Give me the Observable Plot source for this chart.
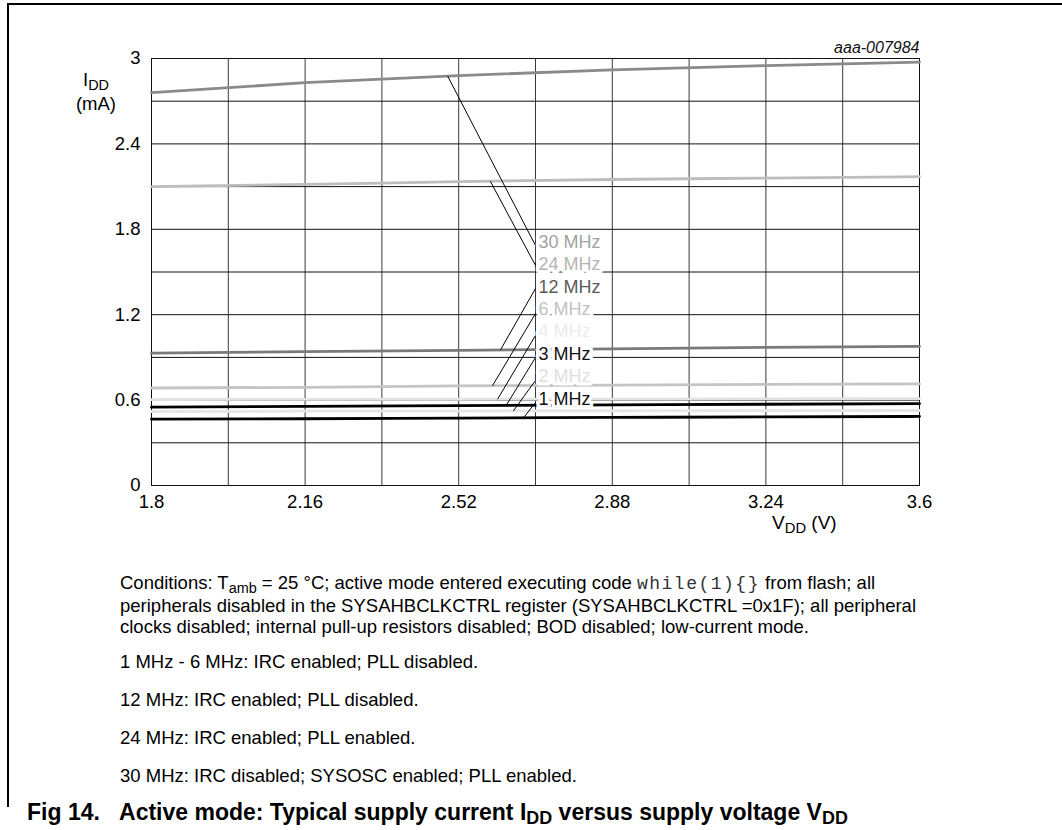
<!DOCTYPE html>
<html>
<head>
<meta charset="utf-8">
<script src="https://cdn.jsdelivr.net/npm/d3@7"></script>
<script src="https://cdn.jsdelivr.net/npm/@observablehq/plot@0.6"></script>
<style>
  body { margin: 0; background: #fff; font-family: "Liberation Sans", Arial, sans-serif; color: #000; }
  #page { position: relative; width: 1062px; height: 830px; overflow: hidden; background: #fff; }
  #frame { position: absolute; left: 7px; top: 3px; right: -2px; height: 802px; border-top: 2px solid #000; border-left: 2px solid #000; }
  #chart { position: absolute; left: 0; top: 0; }
  .abs { position: absolute; white-space: nowrap; }
  sub { font-size: 0.78em; vertical-align: -0.25em; line-height: 0; }
  .ylab { font-size: 18.5px; text-align: center; width: 70px; left: 61px; }
  .xlab { font-size: 19px; line-height: 19px; left: 772px; top: 513px; }
  .cap { font-size: 18.5px; line-height: 21px; left: 120px; }
  code { font-family: "Liberation Mono", "DejaVu Sans Mono", monospace; font-size: 18px; letter-spacing: 1.5px; color: #333; }
  .title { font-family: "Liberation Sans Narrow", "Arial Narrow", "Liberation Sans", Arial, sans-serif; font-weight: bold; font-size: 23px; line-height: 26px; left: 27px; top: 799px; }
</style>
</head>
<body>
<div id="page">
  <div id="frame"></div>
  <div id="chart"></div>
  <div class="abs ylab" style="top:70px; line-height:20px">I<sub>DD</sub></div>
  <div class="abs ylab" style="top:94px; line-height:20px">(mA)</div>
  <div class="abs xlab">V<sub>DD</sub> (V)</div>
  <div class="abs cap" style="top:572px">Conditions: T<sub>amb</sub> = 25 °C; active mode entered executing code <code>while(1){}</code> from flash; all<br>peripherals disabled in the SYSAHBCLKCTRL register (SYSAHBCLKCTRL =0x1F); all peripheral<br>clocks disabled; internal pull-up resistors disabled; BOD disabled; low-current mode.</div>
  <div class="abs cap" style="top:651px">1 MHz - 6 MHz: IRC enabled; PLL disabled.</div>
  <div class="abs cap" style="top:689px">12 MHz: IRC enabled; PLL disabled.</div>
  <div class="abs cap" style="top:727px">24 MHz: IRC enabled; PLL enabled.</div>
  <div class="abs cap" style="top:765px">30 MHz: IRC disabled; SYSOSC enabled; PLL enabled.</div>
  <div class="abs title">Fig 14.&nbsp;&nbsp;&nbsp;Active mode: Typical supply current I<sub>DD</sub> versus supply voltage V<sub>DD</sub></div>
</div>
<script>
// ---- data ----
const vdd = [1.8, 2.16, 2.52, 2.88, 3.24, 3.6];
const freqs = ["30 MHz", "24 MHz", "12 MHz", "6 MHz", "4 MHz", "3 MHz", "2 MHz", "1 MHz"];
const idd30 = [2.76, 2.83, 2.88, 2.92, 2.95, 2.975];
const idd24 = [2.10, 2.115, 2.135, 2.15, 2.16, 2.17];
const idd12 = [0.93, 0.94, 0.95, 0.96, 0.97, 0.977];
const idd6  = [0.685, 0.69, 0.70, 0.705, 0.71, 0.714];
const idd4  = [0.604, 0.605, 0.606, 0.607, 0.608, 0.61];
const idd3  = [0.55, 0.556, 0.561, 0.566, 0.571, 0.575];
const idd2  = [0.52, 0.522, 0.523, 0.525, 0.526, 0.527];
const idd1  = [0.466, 0.469, 0.474, 0.478, 0.482, 0.485];
const seriesValues = [idd30, idd24, idd12, idd6, idd4, idd3, idd2, idd1];

// ---- label annotations (data units) ----
const labelX = 2.7;
const labelY = [1.707, 1.553, 1.391, 1.237, 1.082, 0.92, 0.766, 0.604];
const leaderX1 = [2.494, 2.594, 2.618, 2.599, 2.611, 2.630, 2.648, 2.672];
const leaderY1 = [2.877, 2.138, 0.953, 0.70, 0.606, 0.556, 0.523, 0.476];
const leaderY2 = [1.686, 1.546, 1.384, 1.208, 1.054, 0.899, 0.738, 0.583];

// ---- axes ----
const xTicks = [1.8, 2.16, 2.52, 2.88, 3.24, 3.6];
const xGrid = [1.8, 1.98, 2.16, 2.34, 2.52, 2.7, 2.88, 3.06, 3.24, 3.42, 3.6];
const yTicks = [0, 0.6, 1.2, 1.8, 2.4, 3];
const yGrid = [0, 0.3, 0.6, 0.9, 1.2, 1.5, 1.8, 2.1, 2.4, 2.7, 3];

// ---- styles ----
const lineColors = ["#8a8a8a", "#bdbdbd", "#7a7a7a", "#c4c4c4", "#e2e2e2", "#000000", "#e6e6e6", "#000000"];
const labelColors = ["#a3a3a3", "#b5b5b5", "#5a5a5a", "#c2c2c2", "#ececec", "#111111", "#e0e0e0", "#111111"];

const fmt = d3.format("~g");

const lineMarks = freqs.map((f, k) =>
  Plot.line(vdd.map((v, j) => ({v, i: seriesValues[k][j]})), {
    x: "v", y: "i", stroke: lineColors[k], strokeWidth: 2.8, curve: "monotone-x"
  })
);
const leaders = freqs.map((f, k) => ({x1: leaderX1[k], y1: leaderY1[k], x2: labelX, y2: leaderY2[k]}));
const labelMarks = freqs.map((f, k) =>
  Plot.text([{f, y: labelY[k]}], {
    x: () => labelX, y: "y", text: "f", textAnchor: "start", dx: 3,
    fill: labelColors[k], stroke: "white", strokeWidth: 7, fontSize: 18
  })
);

const chart = Plot.plot({
  width: 1062,
  height: 540,
  marginLeft: 151,
  marginRight: 143,
  marginTop: 58,
  marginBottom: 55,
  x: {domain: [1.8, 3.6]},
  y: {domain: [0, 3]},
  style: {fontFamily: "Liberation Sans, Arial, sans-serif", fontSize: "18px", color: "#000", background: "transparent", overflow: "visible"},
  marks: [
    Plot.gridX({ticks: xGrid, stroke: "#3a3a3a", strokeOpacity: 1, strokeWidth: 1}),
    Plot.gridY({ticks: yGrid, stroke: "#111", strokeOpacity: 1, strokeWidth: 1}),
    Plot.frame({stroke: "#111"}),
    ...lineMarks,
    Plot.link(leaders, {x1: "x1", y1: "y1", x2: "x2", y2: "y2", stroke: "#000", strokeWidth: 1}),
    ...labelMarks,
    Plot.axisX({ticks: xTicks, tickSize: 0, tickPadding: 9, tickFormat: fmt, label: null, fontSize: 18.5}),
    Plot.axisY({ticks: yTicks, tickSize: 0, tickPadding: 11, tickFormat: fmt, label: null, fontSize: 18.5}),
    Plot.text(["aaa-007984"], {frameAnchor: "top-right", lineAnchor: "bottom", dy: -6, fontStyle: "italic", fontSize: 16, fill: "#111"})
  ]
});
document.getElementById("chart").appendChild(chart);
</script>
</body>
</html>
